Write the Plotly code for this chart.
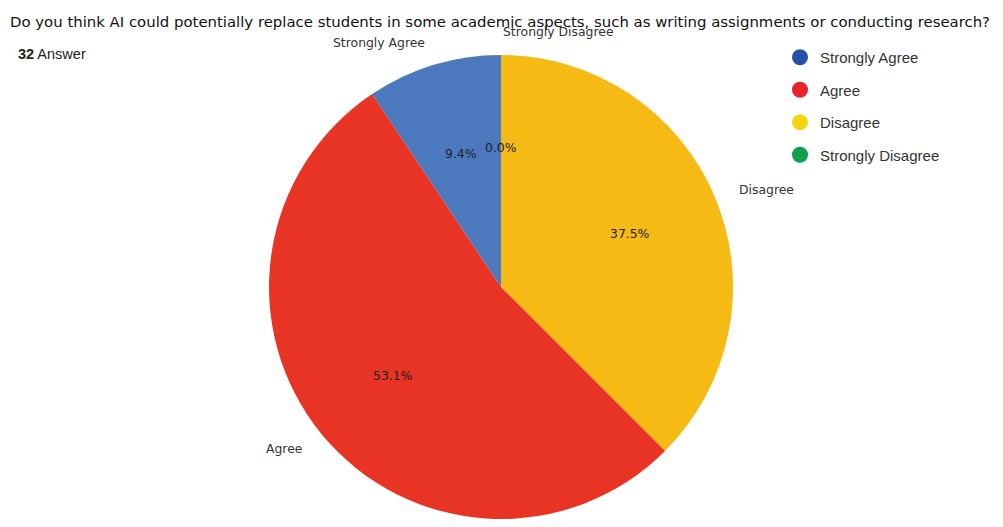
import math
import plotly.graph_objects as go

# ---- data ----
categories = ["Strongly Agree", "Agree", "Disagree", "Strongly Disagree"]
counts = [3, 17, 12, 0]
total_answers = 32
title_text = "Do you think AI could potentially replace students in some academic aspects, such as writing assignments or conducting research?"

# ---- style ----
pie_colors = ["#4C78BE", "#E83424", "#F5BA14", "#0DA14E"]
legend_colors = ["#2550A8", "#E8222A", "#F7D416", "#0DA14E"]

# page geometry: the figure div sits inside the body's 8px margin
OFF = 8
W, H = 1003 - 2 * OFF, 527 - 2 * OFF


def PX(xp):
    return (xp - OFF) / W


def PY(yp):
    return 1 - (yp - OFF) / H


# pie domain (page pixels): top at 55, bottom at plot bottom
top_page = 55
diam = (H + OFF) - top_page
cx_page = 501
dom_x = [PX(cx_page - diam / 2), PX(cx_page + diam / 2)]
dom_y = [0.0, PY(top_page)]

fig = go.Figure()
fig.add_trace(go.Pie(
    labels=categories[::-1], values=counts[::-1], sort=False,
    direction="clockwise", rotation=0,
    marker=dict(colors=pie_colors[::-1], line=dict(width=0)),
    textinfo="none", showlegend=False,
    domain=dict(x=dom_x, y=dom_y),
))

for name, col in zip(categories, legend_colors):
    fig.add_trace(go.Scatter(
        x=[None], y=[None], mode="markers", name=name, legendgroup=name,
        marker=dict(color=col, size=16, symbol="circle"),
    ))

# pie geometry in page pixels (derived from domain)
dw = (dom_x[1] - dom_x[0]) * W
dh = (dom_y[1] - dom_y[0]) * H
r = min(dw, dh) / 2
cx = OFF + (dom_x[0] + dom_x[1]) / 2 * W
cy = OFF + H - (dom_y[0] + dom_y[1]) / 2 * H

annotations = []
tot = sum(counts)
cum = 0.0
for name, v in zip(categories, counts):
    f = v / tot
    mid = math.radians(90 + 360 * (cum + f / 2))
    cum += f
    c, s = math.cos(mid), math.sin(mid)
    lx, ly = cx + 1.1 * r * c, cy - 1.1 * r * s
    annotations.append(dict(
        x=PX(lx), y=PY(ly), xref="paper", yref="paper", text=name, showarrow=False,
        xanchor="left" if c >= 0 else "right", yanchor="middle",
        font=dict(family="DejaVu Sans", size=12.4, color="#333333"),
    ))
    px, py = cx + 0.6 * r * c, cy - 0.6 * r * s
    annotations.append(dict(
        x=PX(px), y=PY(py), xref="paper", yref="paper", text=f"{100 * f:.1f}%", showarrow=False,
        xanchor="center", yanchor="middle",
        font=dict(family="DejaVu Sans", size=12.4, color="#222222"),
    ))

annotations.append(dict(
    x=PX(8), y=PY(22), xref="paper", yref="paper", text=title_text, showarrow=False,
    xanchor="left", yanchor="middle",
    font=dict(family="DejaVu Sans", size=14.9, color="#111111"),
))
annotations.append(dict(
    x=PX(16), y=PY(54), xref="paper", yref="paper",
    text=f"<b>{total_answers}</b> Answer", showarrow=False,
    xanchor="left", yanchor="middle",
    font=dict(family="Liberation Sans", size=14.5, color="#222222"),
))

fig.update_layout(
    margin=dict(l=0, r=0, t=0, b=0),
    paper_bgcolor="white", plot_bgcolor="white",
    xaxis=dict(visible=False), yaxis=dict(visible=False),
    annotations=annotations,
    showlegend=True,
    legend=dict(
        x=PX(780), y=PY(41), xanchor="left", yanchor="top",
        font=dict(family="Liberation Sans", size=15, color="#333333"),
        itemwidth=30, tracegroupgap=10, bgcolor="rgba(0,0,0,0)",
    ),
)

fig.write_html("out.html")
